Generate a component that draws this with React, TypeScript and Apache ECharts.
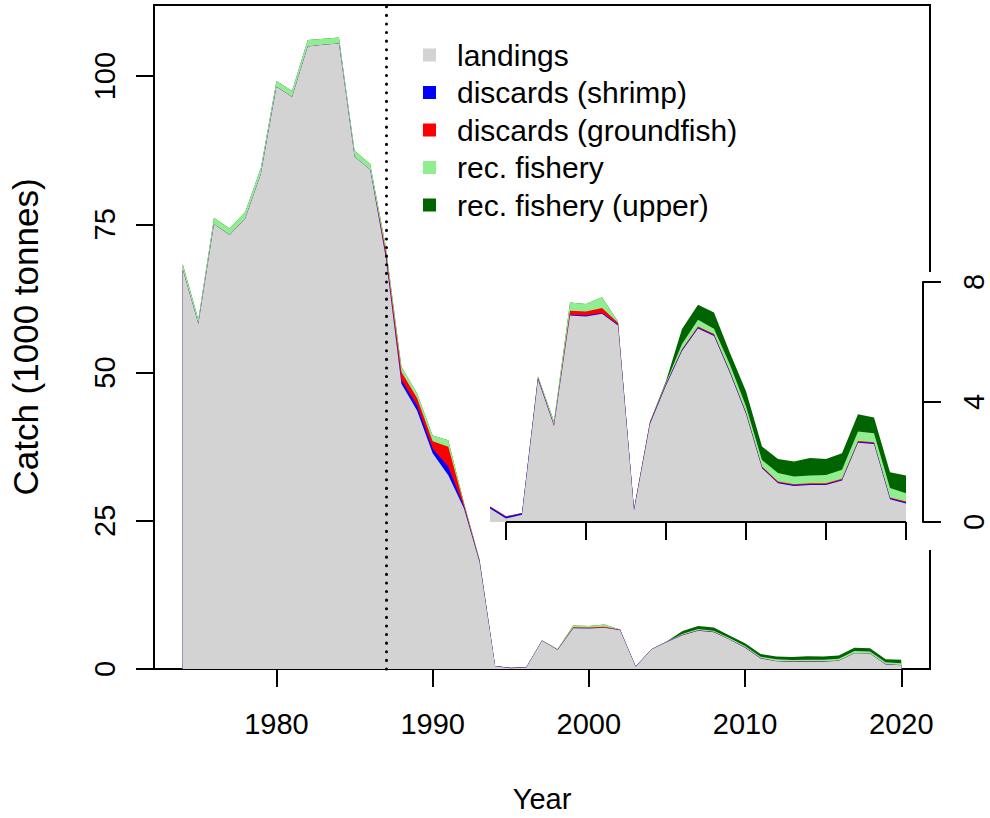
import React, { useEffect, useRef } from 'react';
import * as echarts from 'echarts';

const years = [
  1974, 1975, 1976, 1977, 1978, 1979, 1980, 1981, 1982, 1983, 1984, 1985, 1986, 1987,
  1988, 1989, 1990, 1991, 1992, 1993, 1994, 1995, 1996, 1997, 1998, 1999, 2000, 2001,
  2002, 2003, 2004, 2005, 2006, 2007, 2008, 2009, 2010, 2011, 2012, 2013, 2014, 2015,
  2016, 2017, 2018, 2019, 2020,
];

const landings = [
  67.4, 58.2, 75.0, 73.2, 76.0, 83.5, 98.2, 96.5, 105.0, 105.3, 105.5, 86.4, 84.2, 69.4,
  48.1, 43.6, 36.4, 32.7, 27.1, 18.0, 0.45, 0.12, 0.24, 4.75, 3.2, 6.88, 6.85, 6.94,
  6.55, 0.38, 3.27, 4.55, 5.7, 6.45, 6.2, 4.96, 3.6, 1.79, 1.29, 1.2, 1.23, 1.23,
  1.38, 2.64, 2.6, 0.76, 0.62,
];

const discardsShrimp = [
  0, 0, 0, 0, 0, 0, 0, 0, 0, 0, 0, 0, 0, 0.4,
  0.6, 0.9, 0.8, 1.4, 0.3, 0.15, 0.05, 0.05, 0.04, 0.03, 0.02, 0.03, 0.03, 0.03,
  0.03, 0.03, 0.03, 0.03, 0.03, 0.03, 0.03, 0.03, 0.03, 0.03, 0.03, 0.03, 0.03, 0.03,
  0.03, 0.03, 0.03, 0.03, 0.03,
];

const discardsGroundfish = [
  0, 0, 0, 0, 0, 0, 0, 0, 0, 0, 0, 0, 0, 0.7,
  1.4, 1.2, 1.2, 3.4, 0.4, 0.15, 0.02, 0.02, 0.02, 0.03, 0.02, 0.13, 0.14, 0.16,
  0.06, 0.02, 0.03, 0.03, 0.03, 0.04, 0.04, 0.03, 0.03, 0.03, 0.03, 0.03, 0.03, 0.03,
  0.03, 0.03, 0.03, 0.03, 0.03,
];

const recFishery = [
  0.9, 0.8, 1.1, 1.1, 1.1, 1.0, 1.0, 1.0, 1.1, 1.0, 1.0, 1.0, 1.0, 0.8,
  0.9, 0.8, 1.0, 1.1, 0.3, 0.2, 0.0, 0.0, 0.0, 0.05, 0.12, 0.28, 0.25, 0.36,
  0.04, 0.0, 0.02, 0.04, 0.17, 0.22, 0.17, 0.22, 0.2, 0.22, 0.28, 0.26, 0.26, 0.28,
  0.3, 0.32, 0.3, 0.31, 0.28,
];

const recFisheryUpper = [
  0, 0, 0, 0, 0, 0, 0, 0, 0, 0, 0, 0, 0, 0,
  0, 0, 0, 0, 0, 0, 0, 0, 0, 0, 0, 0, 0, 0,
  0, 0, 0, 0.05, 0.5, 0.5, 0.54, 0.39, 0.5, 0.45, 0.47, 0.5, 0.58, 0.53,
  0.55, 0.57, 0.52, 0.53, 0.59,
];

const mainXTicks = [1980, 1990, 2000, 2010, 2020];
const mainYTicks = [0, 25, 50, 75, 100];
const insetXTicks = [1995, 2000, 2005, 2010, 2015, 2020];
const insetYTicks = [0, 4, 8];
const insetStartYear = 1994;
const closureYear = 1987;

const FONT = '"Liberation Sans", Arial, Helvetica, sans-serif';

const seriesDefs = [
  { name: 'landings', values: landings, color: '#D3D3D3' },
  { name: 'discards (shrimp)', values: discardsShrimp, color: '#0000FF' },
  { name: 'discards (groundfish)', values: discardsGroundfish, color: '#FF0000' },
  { name: 'rec. fishery', values: recFishery, color: '#90EE90' },
  { name: 'rec. fishery (upper)', values: recFisheryUpper, color: '#006400' },
];

export default function App() {
  const ref = useRef<HTMLDivElement>(null);

  useEffect(() => {
    document.body.style.margin = '0';
    const chart = echarts.init(ref.current as HTMLDivElement, null, { renderer: 'svg' });

    const axisLineStyle = { color: '#000', width: 2 };

    // cumulative tops of the stacked bands (drawn top-down so each lower band covers the rest)
    const cumulative: number[][] = [];
    seriesDefs.forEach((s, k) => {
      cumulative.push(s.values.map((v, i) => (k === 0 ? 0 : cumulative[k - 1][i]) + v));
    });

    const order = seriesDefs.map((_, k) => k).reverse();

    const makeSeries = (axisIndex: number, fromYear: number, z: number) =>
      order.map((k, pos) => {
        const s = seriesDefs[k];
        const ser: any = {
          name: s.name,
          type: 'line',
          xAxisIndex: axisIndex,
          yAxisIndex: axisIndex,
          symbol: 'none',
          showSymbol: false,
          lineStyle: { width: 0, color: s.color },
          itemStyle: { color: s.color },
          areaStyle: { color: s.color, opacity: 1, origin: 0 },
          data: years
            .map((y, i) => [y, cumulative[k][i]])
            .filter((p) => p[0] >= fromYear),
          z,
        };
        if (pos === order.length - 1) {
          if (axisIndex === 0) {
            ser.markLine = {
              silent: true,
              symbol: ['none', 'none'],
              label: { show: false },
              lineStyle: { color: '#000', width: 3, type: [0.1, 8.5], cap: 'round' },
              data: [{ xAxis: closureYear }],
            };
          } else {
            ser.markLine = {
              silent: true,
              symbol: ['none', 'none'],
              label: { show: false },
              lineStyle: { color: '#000', width: 2, type: 'solid' },
              data: [[{ coord: [insetXTicks[0], 0] }, { coord: [insetXTicks[insetXTicks.length - 1], 0] }]],
            };
          }
        }
        return ser;
      });

    const yearFmt = (v: number) => String(v);

    const option: any = {
      animation: false,
      backgroundColor: '#fff',
      textStyle: { fontFamily: FONT },
      legend: {
        show: true,
        orient: 'vertical',
        left: 418,
        top: 35,
        icon: 'rect',
        itemWidth: 13,
        itemHeight: 13,
        itemGap: 7.5,
        selectedMode: false,
        textStyle: { fontSize: 30, color: '#000', fontFamily: FONT, lineHeight: 30, padding: [0, 0, 0, 16] },
        data: seriesDefs.map((s) => s.name),
      },
      grid: [
        { left: 153, top: 5, width: 777, height: 666, show: true, borderColor: '#000', borderWidth: 2, backgroundColor: 'transparent', containLabel: false },
        { left: 490, top: 282, width: 416, height: 240, show: false, containLabel: false },
      ],
      xAxis: [
        {
          gridIndex: 0,
          type: 'value',
          min: 1972.16,
          max: 2021.84,
          name: 'Year',
          nameLocation: 'middle',
          nameGap: 115,
          nameTextStyle: { fontSize: 29, color: '#000', fontFamily: FONT },
          axisLine: { show: true, lineStyle: axisLineStyle },
          axisTick: { show: true, length: 18, inside: false, lineStyle: axisLineStyle, customValues: mainXTicks },
          axisLabel: { show: true, fontSize: 29, color: '#000', margin: 40, fontFamily: FONT, customValues: mainXTicks, formatter: yearFmt },
          splitLine: { show: false },
        },
        {
          gridIndex: 1,
          type: 'value',
          min: insetStartYear,
          max: 2020,
          axisLine: { show: false },
          axisTick: { show: true, length: 18, inside: false, lineStyle: axisLineStyle, customValues: insetXTicks },
          axisLabel: { show: false },
          splitLine: { show: false },
          z: 5,
        },
      ],
      yAxis: [
        {
          gridIndex: 0,
          type: 'value',
          min: 0,
          max: 112,
          name: 'Catch (1000 tonnes)',
          nameLocation: 'middle',
          nameGap: 111,
          nameTextStyle: { fontSize: 35, color: '#000', fontFamily: FONT },
          axisLine: { show: true, lineStyle: axisLineStyle },
          axisTick: { show: true, length: 18, inside: false, lineStyle: axisLineStyle, customValues: mainYTicks },
          axisLabel: { show: true, fontSize: 29, color: '#000', rotate: 90, margin: 35, fontFamily: FONT, customValues: mainYTicks },
          splitLine: { show: false },
        },
        {
          gridIndex: 1,
          type: 'value',
          position: 'right',
          offset: 17,
          min: 0,
          max: 8,
          interval: 4,
          axisLine: { show: true, lineStyle: axisLineStyle },
          axisTick: { show: true, length: 18, inside: false, lineStyle: axisLineStyle, customValues: insetYTicks },
          axisLabel: { show: true, fontSize: 29, color: '#000', rotate: 90, margin: 36, fontFamily: FONT, customValues: insetYTicks },
          splitLine: { show: false },
          z: 5,
        },
      ],
      graphic: [
        {
          type: 'rect',
          z: 1,
          silent: true,
          shape: { x: 489, y: 272, width: 501, height: 278 },
          style: { fill: '#ffffff' },
        },
      ],
      series: [...makeSeries(0, years[0], 2), ...makeSeries(1, insetStartYear, 3)],
    };

    chart.setOption(option);
    return () => chart.dispose();
  }, []);

  return <div ref={ref} style={{ width: 990, height: 818 }} />;
}
